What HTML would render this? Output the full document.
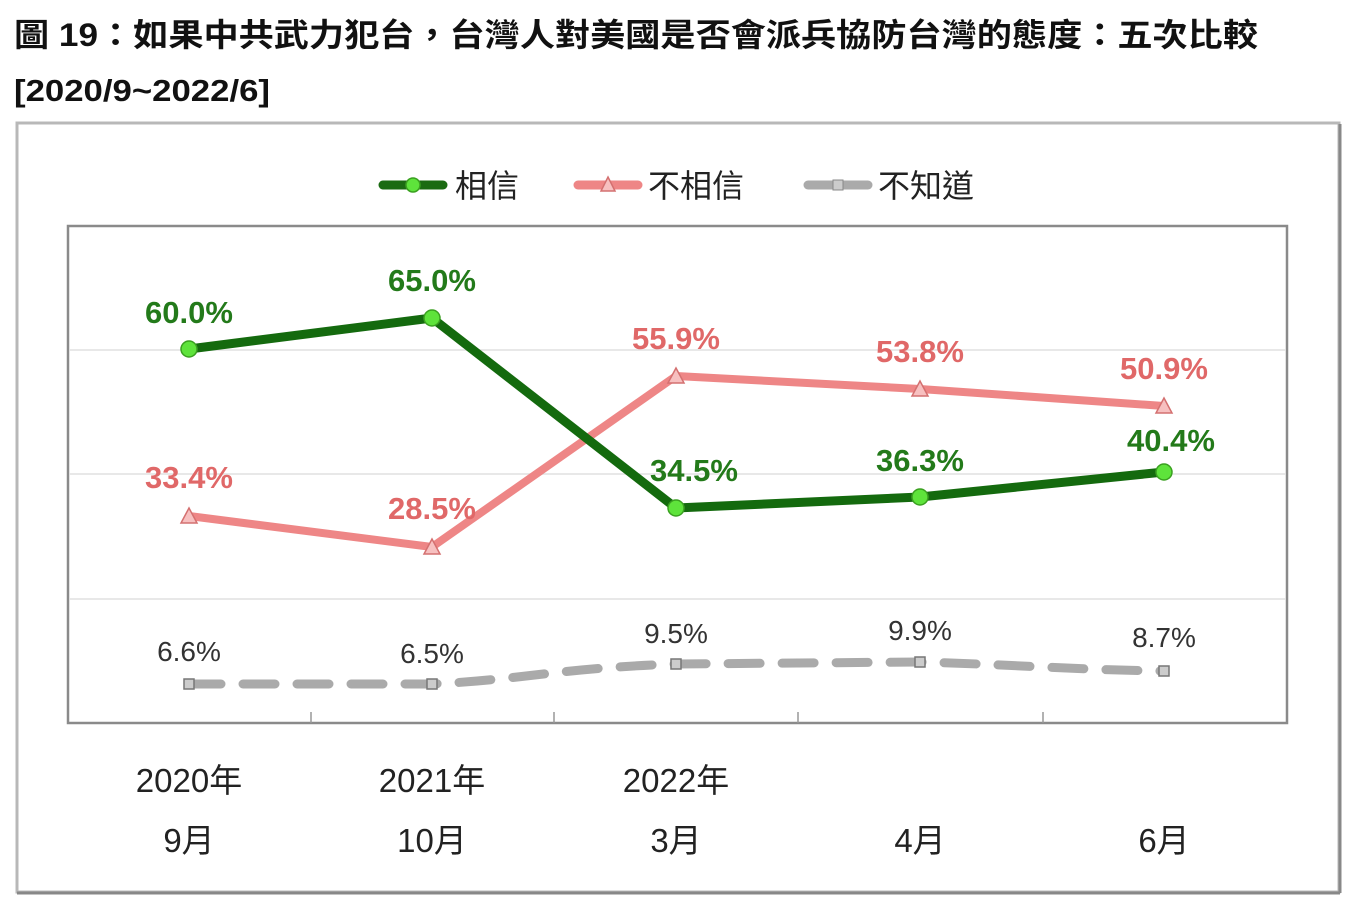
<!DOCTYPE html>
<html><head><meta charset="utf-8"><style>
html,body{margin:0;padding:0;background:#fff;}
svg{display:block;}
text{font-family:"Liberation Sans","Noto Sans CJK TC",sans-serif;}
</style></head><body>
<svg width="1350" height="906" viewBox="0 0 1350 906" xmlns="http://www.w3.org/2000/svg">
<text x="14" y="46" font-size="32" font-weight="bold" fill="#111" textLength="1244" lengthAdjust="spacingAndGlyphs">圖 19：如果中共武力犯台，台灣人對美國是否會派兵協防台灣的態度：五次比較</text>
<text x="14" y="101" font-size="31" font-weight="bold" fill="#111" textLength="256" lengthAdjust="spacingAndGlyphs">[2020/9~2022/6]</text>
<rect x="17" y="123" width="1322" height="769" fill="#fff" stroke="#b8b8b8" stroke-width="3"/>
<line x1="1340" y1="124" x2="1340" y2="893" stroke="#888" stroke-width="3"/>
<line x1="17" y1="893" x2="1340" y2="893" stroke="#888" stroke-width="3"/>
<!-- legend -->
<line x1="383" y1="185" x2="443" y2="185" stroke="#1b6b12" stroke-width="9" stroke-linecap="round"/>
<circle cx="413" cy="185" r="7" fill="#5ee33b" stroke="#3aa020" stroke-width="1.5"/>
<text x="455" y="197" font-size="32" fill="#222">相信</text>
<line x1="578" y1="185" x2="638" y2="185" stroke="#ee8686" stroke-width="9" stroke-linecap="round"/>
<polygon points="608,177 615,191 601,191" fill="#f7c0c0" stroke="#d47070" stroke-width="1.5"/>
<text x="648" y="197" font-size="32" fill="#222">不相信</text>
<line x1="808" y1="185" x2="868" y2="185" stroke="#aaa" stroke-width="9" stroke-linecap="round"/>
<rect x="833" y="180" width="10" height="10" fill="#ccc" stroke="#888"/>
<text x="878" y="197" font-size="32" fill="#222">不知道</text>
<!-- plot -->
<rect x="68" y="226" width="1219" height="497" fill="#fff" stroke="#8a8a8a" stroke-width="2.5"/>
<g stroke="#e0e0e0" stroke-width="1.5">
<line x1="69" y1="350" x2="1286" y2="350"/><line x1="69" y1="474" x2="1286" y2="474"/><line x1="69" y1="599" x2="1286" y2="599"/>
</g>
<g stroke="#999" stroke-width="1.5">
<line x1="311" y1="712" x2="311" y2="723"/><line x1="554" y1="712" x2="554" y2="723"/><line x1="798" y1="712" x2="798" y2="723"/><line x1="1043" y1="712" x2="1043" y2="723"/>
</g>
<!-- gray -->
<path d="M189,684 L432,684 C520,680 560,668 676,664 L920,662 C1000,664 1080,670 1164,671" fill="none" stroke="#aaa" stroke-width="9" stroke-dasharray="32,22" stroke-linecap="round"/>
<g fill="#ccc" stroke="#777" stroke-width="1.5">
<rect x="184" y="679" width="10" height="10"/><rect x="427" y="679" width="10" height="10"/><rect x="671" y="659" width="10" height="10"/><rect x="915" y="657" width="10" height="10"/><rect x="1159" y="666" width="10" height="10"/>
</g>
<!-- pink -->
<polyline points="189,516 432,547 676,376 920,389 1164,406" fill="none" stroke="#ee8686" stroke-width="8" stroke-linejoin="round"/>
<g fill="#f7c0c0" stroke="#d47070" stroke-width="1.5">
<polygon points="189,508 197,523 181,523"/><polygon points="432,539 440,554 424,554"/><polygon points="676,368 684,383 668,383"/><polygon points="920,381 928,396 912,396"/><polygon points="1164,398 1172,413 1156,413"/>
</g>
<!-- green -->
<polyline points="189,349 432,318 676,508 920,497 1164,472" fill="none" stroke="#146a0e" stroke-width="9" stroke-linejoin="round"/>
<g fill="#5ee33b" stroke="#3aa020" stroke-width="1.5">
<circle cx="189" cy="349" r="8"/><circle cx="432" cy="318" r="8"/><circle cx="676" cy="508" r="8"/><circle cx="920" cy="497" r="8"/><circle cx="1164" cy="472" r="8"/>
</g>
<!-- labels -->
<g font-size="31" font-weight="bold" fill="#237a1a" text-anchor="middle">
<text x="189" y="323">60.0%</text><text x="432" y="291">65.0%</text><text x="694" y="481">34.5%</text><text x="920" y="471">36.3%</text><text x="1171" y="451">40.4%</text>
</g>
<g font-size="31" font-weight="bold" fill="#e06868" text-anchor="middle">
<text x="189" y="488">33.4%</text><text x="432" y="519">28.5%</text><text x="676" y="349">55.9%</text><text x="920" y="362">53.8%</text><text x="1164" y="379">50.9%</text>
</g>
<g font-size="28" fill="#333" text-anchor="middle">
<text x="189" y="661">6.6%</text><text x="432" y="663">6.5%</text><text x="676" y="643">9.5%</text><text x="920" y="640">9.9%</text><text x="1164" y="647">8.7%</text>
</g>
<g font-size="33" fill="#222" text-anchor="middle">
<text x="189" y="792">2020年</text><text x="432" y="792">2021年</text><text x="676" y="792">2022年</text>
<text x="189" y="852">9月</text><text x="432" y="852">10月</text><text x="676" y="852">3月</text><text x="920" y="852">4月</text><text x="1164" y="852">6月</text>
</g>
</svg>
</body></html>
